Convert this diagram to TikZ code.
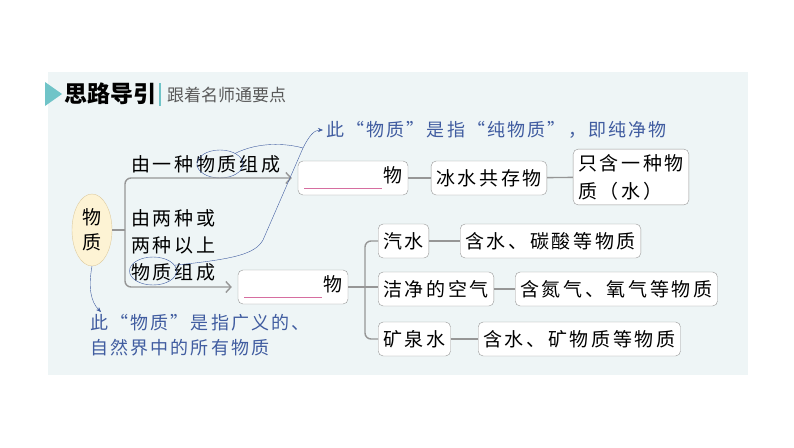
\documentclass[tikz,border=0pt]{standalone}
\usepackage{fontspec}
\newfontfamily\cjk[LetterSpace=14]{Noto Sans CJK SC}
\newfontfamily\cjknote[LetterSpace=12]{Noto Sans CJK SC}
\newfontfamily\cjkhead{Noto Sans CJK SC}
\usetikzlibrary{positioning,arrows.meta,shapes.geometric}
\definecolor{panel}{RGB}{238,245,246}
\definecolor{teal}{RGB}{112,196,200}
\definecolor{linegray}{RGB}{150,150,150}
\definecolor{noteblue}{RGB}{64,92,160}
\definecolor{blank}{RGB}{214,110,160}
\definecolor{eggfill}{RGB}{253,243,212}
\definecolor{eggdraw}{RGB}{222,204,160}

\begin{document}
\begin{tikzpicture}[x=1pt,y=-1pt,
  box/.style={draw=linegray,rounded corners=5pt,fill=white,inner sep=5pt,minimum height=34pt,
    font=\cjk\fontsize{19}{28}\selectfont,align=left},
  lbl/.style={font=\cjk\fontsize{19}{20}\selectfont,anchor=west,inner sep=0pt},
  note/.style={font=\cjknote\fontsize{18}{25}\selectfont,text=noteblue,align=left},
  ring/.style={draw=noteblue,ellipse,thin,inner sep=0pt},
  fork/.style={draw=linegray,line width=1.4pt,rounded corners=6pt},
  pick/.style={fork,-{Straight Barb[length=5pt,width=11pt]},shorten >=6pt},
  hint/.style={->,>={Stealth[length=5pt,width=4pt]},noteblue,thin},
]
\useasboundingbox (0,0) rectangle (794,447);
% ---------- panel and header ----------
\fill[panel] (48,72) rectangle (748,375);
\fill[teal] (45,82) -- (62,94) -- (45,106) -- cycle;
\node[font=\cjkhead\bfseries\fontsize{23}{24}\selectfont,anchor=west,inner sep=0pt] (head) at (64,94) {思路导引};
\draw[teal,line width=1.5pt] (160,83) -- (160,106);
\node[font=\cjkhead\fontsize{17}{18}\selectfont,text=black!65,anchor=west,inner sep=0pt] (sub) at (167,95) {跟着名师通要点};
% ---------- root ----------
\node[ellipse,draw=eggdraw,fill=eggfill,minimum width=40pt,minimum height=72pt,inner sep=0pt,
  font=\cjkhead\fontsize{19}{25}\selectfont,align=center] (wz) at (92,230) {物\\质};
\coordinate (f1) at (125,230);
\draw[fork] (wz.east) -- (f1);
% ---------- branch labels ----------
\node[lbl] (one) at (131,164) {由一种物质组成};
\node[lbl] (two1) at (131,218) {由两种或};
\node[lbl] (two2) at (131,245) {两种以上};
\node[lbl] (two3) at (131,272) {物质组成};
\node[ring,minimum width=46pt,minimum height=28pt] (e1) at (220,164) {};
\node[ring,minimum width=47pt,minimum height=28pt] (e2) at (153,271) {};
% ---------- pure substance row ----------
\node[box,minimum width=110pt] (pure) at (353,178)
  {\textcolor{blank}{\rule[-7pt]{78pt}{1.2pt}}\hspace{1pt}物};
\node[box] (ice) at (489,178) {冰水共存物};
\node[box] (only) at (631,177) {只含一种物\\质（水）};
\draw[fork] (pure) -- (ice);
\draw[fork] (ice) -- (only);
% ---------- mixture rows ----------
\node[box,minimum width=110pt] (mix) at (293,287)
  {\textcolor{blank}{\rule[-7pt]{78pt}{1.2pt}}\hspace{1pt}物};
\coordinate (f2) at (365,287);
\node[box,anchor=west] (soda) at (378,241) {汽水};
\node[box,anchor=west] (air) at (378,289) {洁净的空气};
\node[box,anchor=west] (spring) at (378,339) {矿泉水};
\node[box,anchor=west] (sodax) at (460,241) {含水、碳酸等物质};
\node[box,anchor=west] (airx) at (515,289) {含氮气、氧气等物质};
\node[box,anchor=west] (springx) at (478,339) {含水、矿物质等物质};
\draw[fork] (mix.east) -- (f2);
\draw[fork] (f2) |- (soda.west);
\draw[fork] (f2) |- (spring.west);
\draw[fork] (f2) -- (air.west |- f2);
\draw[fork] (soda) -- (sodax);
\draw[fork] (air) -- (airx);
\draw[fork] (spring) -- (springx);
% ---------- forks from root ----------
\draw[pick] (f1) |- (pure.west);
\draw[pick] (f1) |- (mix.west);
% ---------- notes ----------
\node[note,anchor=west,inner sep=0pt] (n1) at (326,130) {此“物质”是指“纯物质”，即纯净物};
\node[note,anchor=north west,inner sep=0pt] (n2) at (90,314) {此“物质”是指广义的、\\自然界中的所有物质};
\coordinate (m1) at (303,148);
\coordinate (t2) at (101,312);
\draw[noteblue,thin] (e1.35) .. controls (258,142) and (285,143) .. (m1);
\draw[hint] (e2.15) .. controls (235,259) and (255,254) .. (263,240) -- (m1)
  .. controls (309,136) and (314,130) .. ([xshift=-3pt]n1.west);
\draw[hint] (wz.south) .. controls (88,288) and (91,302) .. (t2);
\end{tikzpicture}
\end{document}
